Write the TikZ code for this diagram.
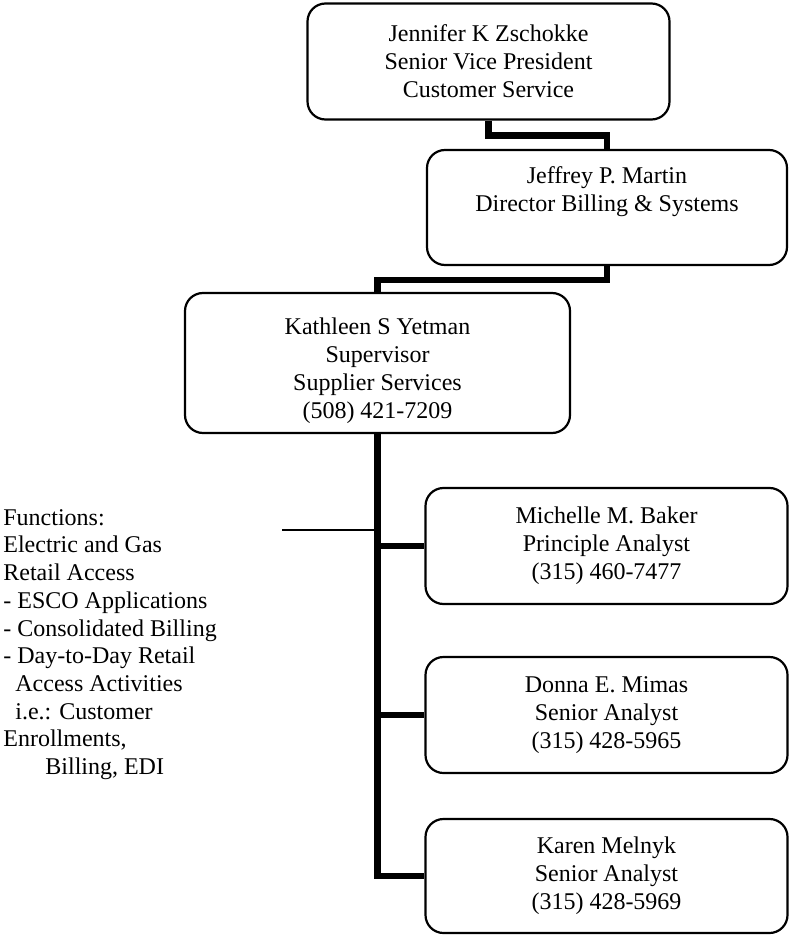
\documentclass[tikz,border=0pt]{standalone}
\usepackage{fontspec}
\setmainfont{Liberation Serif}
\usetikzlibrary{shapes}
\tikzstyle{box} = [draw, rectangle, rounded corners=9pt, line width=1.1pt,
    align=center, minimum width=181pt, minimum height=58pt,
    font=\fontsize{12}{14}\selectfont]
\tikzstyle{link} = [line width=3.3pt]
\tikzstyle{thinlink} = [line width=1.3pt]
\begin{document}
\begin{tikzpicture}[x=0.5pt,y=-0.5pt]
\useasboundingbox (0,0) rectangle (788,936);

\node[box, name=svp] at (488.5,61.5) {Jennifer K Zschokke\\Senior Vice President\\Customer Service};
\node[box, name=dir, minimum width=180pt, minimum height=57.5pt] at (607,207.5) {Jeffrey P. Martin\\Director Billing \& Systems\\\strut};
\node[box, name=sup, minimum width=192.5pt, minimum height=70pt] at (377.5,363) {\rule{0pt}{16pt}Kathleen S Yetman\\Supervisor\\Supplier Services\\(508) 421-7209};

\node[box, name=ana1] at (606.5,546) {Michelle M. Baker\\Principle Analyst\\(315) 460-7477};
\node[box, name=ana2] at (606.5,715) {Donna E. Mimas\\Senior Analyst\\(315) 428-5965};
\node[box, name=ana3, minimum height=57pt] at (606.5,876) {Karen Melnyk\\Senior Analyst\\(315) 428-5969};

\draw[link] (svp.south) -- ++(0,15) -| (dir.north);
\draw[link] (dir.south) -- ++(0,14) -| (sup.north);
\foreach \n in {ana1,ana2,ana3}
  \draw[link] (sup.south) |- (\n.west);

% functions
\node[anchor=north west, inner sep=0pt, align=left, name=func,
      font=\fontsize{12}{13.85}\selectfont] at (3,509)
  {Functions:\\Electric and Gas\\Retail Access\\- ESCO Applications\\- Consolidated Billing\\- Day-to-Day Retail\\\hspace*{6pt}Access Activities\\\hspace*{6pt}i.e.: Customer\\Enrollments,\\\hspace*{21pt}Billing, EDI};
\coordinate (fnend) at (282,530);
\draw[thinlink] (fnend) -- (fnend -| sup.south);
\end{tikzpicture}
\end{document}
